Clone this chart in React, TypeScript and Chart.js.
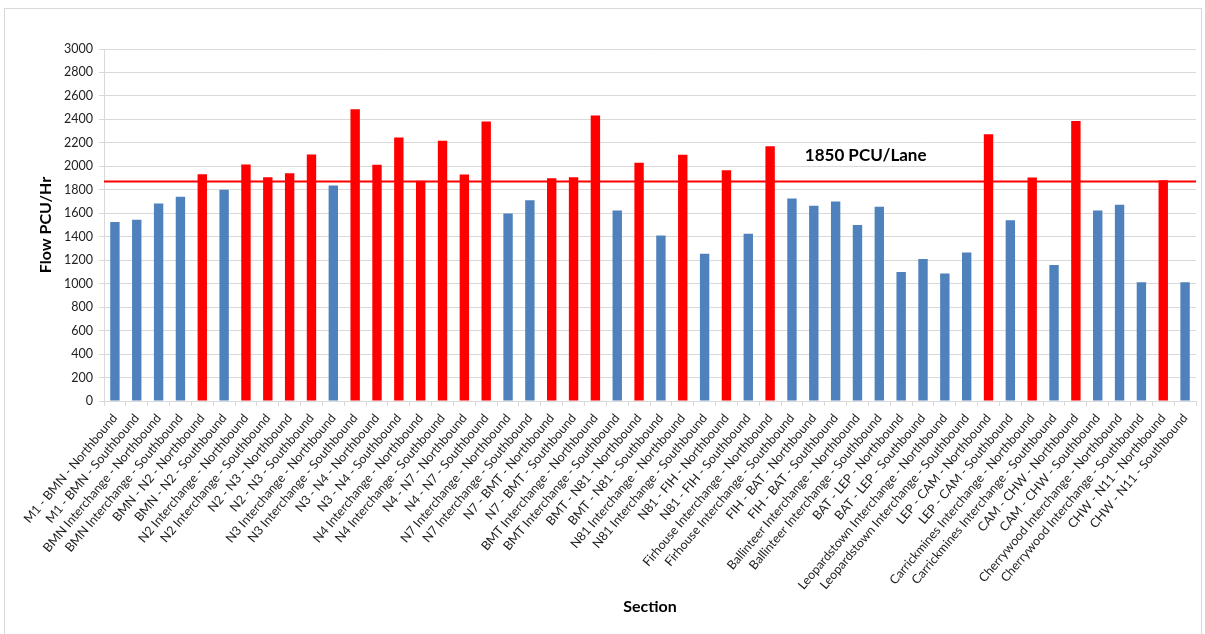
import React, { useEffect, useRef } from "react";
import { Chart, registerables } from "chart.js";

Chart.register(...registerables);

const categories = [
  "M1 - BMN - Northbound",
  "M1 - BMN - Southbound",
  "BMN Interchange - Northbound",
  "BMN Interchange - Southbound",
  "BMN - N2 - Northbound",
  "BMN - N2 - Southbound",
  "N2 Interchange - Northbound",
  "N2 Interchange - Southbound",
  "N2 - N3 - Northbound",
  "N2 - N3 - Southbound",
  "N3 Interchange - Northbound",
  "N3 Interchange - Southbound",
  "N3 - N4 - Northbound",
  "N3 - N4 - Southbound",
  "N4 Interchange - Northbound",
  "N4 Interchange - Southbound",
  "N4 - N7 - Northbound",
  "N4 - N7 - Southbound",
  "N7 Interchange - Northbound",
  "N7 Interchange - Southbound",
  "N7 - BMT - Northbound",
  "N7 - BMT - Southbound",
  "BMT Interchange - Northbound",
  "BMT Interchange - Southbound",
  "BMT - N81 - Northbound",
  "BMT - N81 - Southbound",
  "N81 Interchange - Northbound",
  "N81 Interchange - Southbound",
  "N81 - FIH - Northbound",
  "N81 - FIH - Southbound",
  "Firhouse Interchange - Northbound",
  "Firhouse Interchange - Southbound",
  "FIH - BAT - Northbound",
  "FIH - BAT - Southbound",
  "Ballinteer Interchange - Northbound",
  "Ballinteer Interchange - Southbound",
  "BAT - LEP - Northbound",
  "BAT - LEP - Southbound",
  "Leopardstown Interchange - Northbound",
  "Leopardstown Interchange - Southbound",
  "LEP - CAM - Northbound",
  "LEP - CAM - Southbound",
  "Carrickmines Interchange - Northbound",
  "Carrickmines Interchange - Southbound",
  "CAM - CHW - Northbound",
  "CAM - CHW - Southbound",
  "Cherrywood Interchange - Northbound",
  "Cherrywood Interchange - Southbound",
  "CHW - N11 - Northbound",
  "CHW - N11 - Southbound",
];

const flowValues = [
  1525, 1545, 1684, 1740, 1933, 1800, 2016, 1908, 1942, 2101,
  1837, 2487, 2013, 2245, 1877, 2217, 1930, 2382, 1599, 1712,
  1899, 1908, 2433, 1624, 2030, 1411, 2098, 1255, 1967, 1426,
  2172, 1726, 1664, 1701, 1499, 1655, 1100, 1211, 1086, 1265,
  2274, 1540, 1905, 1160, 2387, 1624, 1672, 1012, 1882, 1012,
];

const yTickValues = [0, 200, 400, 600, 800, 1000, 1200, 1400, 1600, 1800, 2000, 2200, 2400, 2600, 2800, 3000];

const THRESHOLD_LINE = 1870;
const THRESHOLD_LABEL = "1850 PCU/Lane";
const LABEL_CATEGORY_INDEX = 32;
const LABEL_VALUE = 2048;

const BLUE = "#4F81BD";
const RED = "#FF0000";
const GRID = "#d9d9d9";
const FONT = "Lato, 'Open Sans', 'Liberation Sans', sans-serif";

const thresholdPlugin = {
  id: "thresholdLine",
  afterDatasetsDraw(chart: any) {
    const { ctx, chartArea, scales } = chart;
    const y = scales.y.getPixelForValue(THRESHOLD_LINE);
    ctx.save();
    ctx.strokeStyle = RED;
    ctx.lineWidth = 2;
    ctx.beginPath();
    ctx.moveTo(chartArea.left, y);
    ctx.lineTo(chartArea.right, y);
    ctx.stroke();
    ctx.font = `bold 17px ${FONT}`;
    ctx.fillStyle = "#000";
    ctx.textAlign = "left";
    ctx.textBaseline = "alphabetic";
    const lx = scales.x.getPixelForValue(LABEL_CATEGORY_INDEX) - 9;
    const ly = scales.y.getPixelForValue(LABEL_VALUE);
    ctx.fillText(THRESHOLD_LABEL, lx, ly);
    ctx.restore();
  },
};

export default function App() {
  const canvasRef = useRef<HTMLCanvasElement | null>(null);

  useEffect(() => {
    if (!canvasRef.current) return;
    const colors = flowValues.map((v) => (v > THRESHOLD_LINE ? RED : BLUE));
    const chart = new Chart(canvasRef.current, {
      type: "bar",
      data: {
        labels: categories,
        datasets: [
          {
            label: "Flow",
            data: flowValues,
            backgroundColor: colors,
            borderWidth: 0,
            categoryPercentage: 1,
            barPercentage: 0.43,
          },
        ],
      },
      options: {
        animation: false,
        responsive: true,
        maintainAspectRatio: false,
        layout: { padding: { left: 0, right: 9, top: 49, bottom: 0 } },
        plugins: {
          legend: { display: false },
          tooltip: { enabled: false },
        },
        scales: {
          x: {
            type: "category",
            offset: true,
            afterFit: (scale: any) => {
              scale.height = 233;
            },
            grid: {
              display: true,
              offset: true,
              drawOnChartArea: false,
              drawTicks: true,
              tickLength: 5,
              color: GRID,
            },
            border: { display: true, color: GRID, width: 1 },
            ticks: {
              autoSkip: false,
              minRotation: 50,
              maxRotation: 50,
              padding: 5,
              color: "#222",
              font: { family: FONT, size: 12.5 },
            },
            title: {
              display: true,
              text: "Section",
              color: "#000",
              font: { family: FONT, size: 16, weight: "bold" },
              padding: { top: 4, bottom: 18 },
            },
          },
          y: {
            type: "linear",
            min: 0,
            max: 3000,
            afterFit: (scale: any) => {
              scale.width = 104;
            },
            afterBuildTicks: (scale: any) => {
              scale.ticks = yTickValues.map((v) => ({ value: v }));
            },
            grid: {
              display: true,
              color: GRID,
              lineWidth: 1,
              drawTicks: true,
              tickLength: 5,
            },
            border: { display: true, color: GRID, width: 1 },
            ticks: {
              padding: 6,
              color: "#222",
              font: { family: FONT, size: 12.5 },
              callback: (value: any) => String(value),
            },
            title: {
              display: true,
              text: "Flow PCU/Hr",
              color: "#000",
              font: { family: FONT, size: 16, weight: "bold" },
              padding: { top: 36, bottom: 4 },
            },
          },
        },
      },
      plugins: [thresholdPlugin],
    });
    return () => chart.destroy();
  }, []);

  return (
    <div
      style={{
        position: "fixed",
        left: 0,
        top: 0,
        width: 1205,
        height: 634,
        background: "#fff",
        overflow: "hidden",
      }}
    >
      <div
        style={{
          position: "absolute",
          left: 4,
          top: 8,
          width: 1198,
          height: 660,
          border: "1px solid #d9d9d9",
          boxSizing: "border-box",
          pointerEvents: "none",
        }}
      />
      <div style={{ position: "absolute", left: 0, top: 0, width: 1205, height: 634 }}>
        <canvas ref={canvasRef} />
      </div>
    </div>
  );
}
